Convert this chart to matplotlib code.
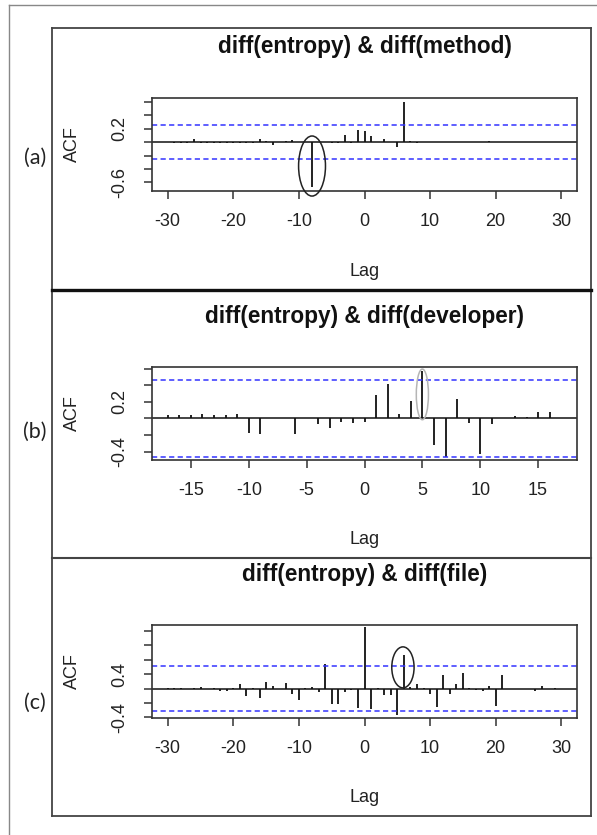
#!/usr/bin/env python3

import matplotlib

matplotlib.use("Agg")
import matplotlib.pyplot as plt
from matplotlib.lines import Line2D
from matplotlib.patches import Ellipse

W, H = 597, 835

# cross-correlation values
lags_a = list(range(-30, 31))
acf_a = [
    -0.005, -0.01, -0.01, -0.008, 0.05, -0.008, -0.01, -0.008, -0.01, -0.01,
    -0.008, -0.01, -0.02, -0.008, 0.05, 0.02, -0.05, 0.005, 0.02, 0.03,
    0.0, 0.0, -0.667, 0.0, -0.005, -0.01, -0.01, 0.11, -0.02, 0.18,
    0.158,
    0.084, 0.005, 0.04, 0.005, -0.074, 0.60, 0.02, -0.02, 0.005, 0.003,
    0.0, 0.005, 0.0, 0.003, 0.005, 0.0, 0.005, 0.0, 0.01, 0.005,
    0.003, 0.0, 0.003, 0.002, 0.0, 0.003, 0.002, 0.0, 0.003, 0.0,
]
ci_a = 0.247

lags_b = list(range(-17, 18))
acf_b = [
    0.04, 0.04, 0.04, 0.05, 0.04, 0.04, 0.05, -0.18, -0.19, 0.01,
    0.01, -0.19, 0.0, -0.07, -0.11, -0.04, -0.05,
    -0.04,
    0.28, 0.41, 0.05, 0.21, 0.57, -0.32, -0.46, 0.23, -0.06, -0.43,
    -0.07, 0.0, 0.03, 0.02, 0.08, 0.08, 0.0,
]
ci_b = 0.468

lags_c = list(range(-30, 31))
acf_c = [
    0.01, 0.005, 0.005, 0.0, 0.002, 0.023, 0.0, 0.002, -0.03, -0.03,
    0.005, 0.06, -0.107, 0.005, -0.126, 0.098, 0.037, -0.01, 0.08, -0.08,
    -0.153, 0.01, 0.023, -0.047, 0.335, -0.22, -0.21, -0.047, -0.023, -0.265,
    0.85,
    -0.28, 0.005, -0.093, -0.093, -0.372, 0.465, 0.023, 0.06, 0.005, -0.08,
    -0.256, 0.195, -0.08, 0.07, 0.21, 0.005, -0.02, -0.035, 0.03, -0.24,
    0.186, -0.01, -0.01, -0.01, -0.008, -0.03, 0.03, 0.0, 0.003, 0.0,
]
ci_c = 0.313

titles = [
    "diff(entropy) & diff(method)",
    "diff(entropy) & diff(developer)",
    "diff(entropy) & diff(file)",
]
panel_tags = ["(a)", "(b)", "(c)"]


def fx(px):
    return px / W


def fy(py):
    return 1 - py / H


def draw_panel(fig, box, lags, vals, ci, xlim, ylim, xticks, yticks, ylabels,
               title, tag, title_y, tag_y, ellipse):
    x0, y0, x1, y1 = box
    ax = fig.add_axes([fx(x0), fy(y1), (x1 - x0) / W, (y1 - y0) / H])
    ax.vlines(lags, 0, vals, color="#111111", lw=1.3)
    ax.axhline(0, color="#111111", lw=1.1)
    for c in (ci, -ci):
        ax.axhline(c, color="#3333ff", lw=1.1, ls=(0, (3.4, 2.2)))
    ax.set_xlim(*xlim)
    ax.set_ylim(*ylim)
    ax.set_xticks(xticks)
    ax.set_xticklabels([str(t) for t in xticks])
    ax.set_yticks(yticks)
    ax.set_yticklabels(ylabels, rotation=90, va="center")
    ax.tick_params(axis="both", length=6, width=1.1, color="#333333",
                   labelsize=13, labelcolor="#222222")
    ax.tick_params(axis="x", pad=10)
    ax.tick_params(axis="y", pad=11)
    for sp in ax.spines.values():
        sp.set_color("#333333")
        sp.set_linewidth(1.2)

    cx, cy, ew, eh, ecol = ellipse
    ax.add_patch(Ellipse((cx, cy), ew, eh, fill=False, ec=ecol, lw=1.1,
                         clip_on=False, zorder=5))

    mid_x = (x0 + x1) / 2
    fig.text(fx(mid_x), fy(title_y), title, ha="center", va="center",
             fontsize=16.3, fontweight="bold", color="#111111")
    fig.text(fx(mid_x), fy(y1 + 80), "Lag", ha="center", va="center",
             fontsize=13, color="#222222")
    fig.text(fx(72), fy((y0 + y1) / 2), "ACF", ha="center", va="center",
             rotation=90, fontsize=13, color="#222222")
    fig.text(fx(35), fy(tag_y), tag, ha="center", va="center",
             fontsize=15.5, family="Lato", color="#222222")
    return ax


def main():
    plt.rcParams["font.family"] = ["Liberation Sans", "DejaVu Sans"]
    fig = plt.figure(figsize=(W / 100, H / 100), dpi=100)

    # outer frame (only left and top edges visible)
    fig.add_artist(Line2D([fx(9), fx(9)], [fy(5), fy(835)], color="#888888", lw=1.0))
    fig.add_artist(Line2D([fx(9), fx(597)], [fy(5), fy(5)], color="#888888", lw=1.0))
    # inner panels
    for (xa, ya, xb, yb, lw, col) in [
        (52, 28, 591, 28, 1.3, "#444444"),
        (52, 816, 591, 816, 1.3, "#444444"),
        (52, 28, 52, 816, 1.3, "#444444"),
        (591, 28, 591, 816, 1.3, "#444444"),
        (52, 290, 591, 290, 2.4, "#111111"),
        (52, 558, 591, 558, 1.5, "#444444"),
    ]:
        fig.add_artist(Line2D([fx(xa), fx(xb)], [fy(ya), fy(yb)], color=col, lw=lw))

    wide_ticks = [-30, -20, -10, 0, 10, 20, 30]

    draw_panel(fig, (152, 98, 577, 191), lags_a, acf_a, ci_a,
               (-32.4, 32.4), (-0.726, 0.652), wide_ticks,
               [-0.6, -0.4, -0.2, 0.0, 0.2, 0.4, 0.6],
               ["-0.6", "", "", "", "0.2", "", ""],
               titles[0], panel_tags[0], 47, 158,
               (-8, -0.356, 4.1, 0.89, "#222222"))

    draw_panel(fig, (152, 367, 577, 460), lags_b, acf_b, ci_b,
               (-18.36, 18.36), (-0.50, 0.62), [-15, -10, -5, 0, 5, 10, 15],
               [-0.4, -0.2, 0.0, 0.2, 0.4, 0.6],
               ["-0.4", "", "", "0.2", "", ""],
               titles[1], panel_tags[1], 316, 432,
               (5, 0.29, 1.05, 0.61, "#b5b5b5"))

    draw_panel(fig, (152, 625, 577, 718), lags_c, acf_c, ci_c,
               (-32.4, 32.4), (-0.409, 0.884), wide_ticks,
               [-0.4, -0.2, 0.0, 0.2, 0.4, 0.6, 0.8],
               ["-0.4", "", "", "0.4", "", "", ""],
               titles[2], panel_tags[2], 575, 703,
               (5.86, 0.295, 3.4, 0.57, "#222222"))

    fig.savefig("out.png", dpi=100)
    plt.close(fig)


if __name__ == "__main__":
    main()
